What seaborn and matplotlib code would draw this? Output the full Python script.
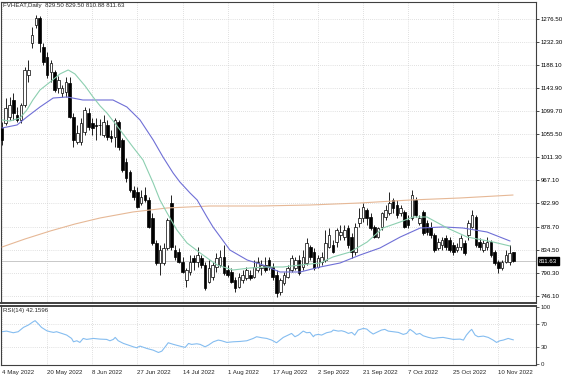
import numpy as np
import pandas as pd
import matplotlib
matplotlib.use("Agg")
import matplotlib.pyplot as plt
import seaborn as sns

# ---------------- data ----------------
title_text = "FVHEAT,Daily  829.50 829.50 810.88 811.63"
rsi_label = "RSI(14) 42.1596"

opens = [1068.0, 1077.6, 1089.1, 1121.8, 1093.0, 1083.4, 1112.2, 1169.8, 1231.4, 1265.9,
         1279.4, 1223.7, 1204.4, 1175.6, 1175.6, 1144.9, 1135.3, 1137.2, 1154.5, 1089.1,
         1041.1, 1041.1, 1060.3, 1096.8, 1077.6, 1073.8, 1073.8, 1054.6, 1073.8, 1052.6,
         1050.7, 1079.5, 1045.0, 1002.7, 983.4, 948.8, 945.0, 923.9, 939.2, 929.6,
         895.1, 847.0, 808.6, 808.6, 837.4, 923.9, 833.5, 829.7, 810.5, 775.9,
         791.3, 818.2, 810.5, 818.2, 804.7, 772.1, 781.7, 800.9, 804.7, 820.1,
         795.1, 791.3, 775.9, 762.4, 775.9, 779.8, 785.5, 781.7, 795.1, 799.0,
         804.7, 814.3, 800.9, 785.5, 752.8, 770.1, 781.7, 795.1, 799.0, 814.3,
         800.9, 808.6, 839.3, 829.7, 800.9, 810.5, 814.3, 839.3, 843.2, 848.9,
         862.4, 858.5, 875.8, 858.5, 829.7, 885.4, 895.1, 910.4, 897.0, 877.8,
         858.5, 877.8, 897.0, 904.6, 929.6, 920.0, 904.6, 906.6, 891.2, 895.1,
         929.6, 885.4, 906.6, 885.4, 877.8, 862.4, 837.4, 843.2, 856.6, 852.8,
         843.2, 833.5, 839.3, 847.0, 862.4, 877.8, 897.0, 848.9, 833.5, 839.3,
         848.9, 829.7, 810.5, 799.0, 810.5, 810.5, 829.5]

closes = [1045.0, 1106.4, 1112.2, 1096.8, 1083.4, 1112.2, 1179.5, 1179.5, 1246.7, 1279.4,
          1231.4, 1194.8, 1169.8, 1192.9, 1141.0, 1160.2, 1144.9, 1156.4, 1089.1, 1045.0,
          1058.4, 1077.6, 1102.6, 1069.9, 1068.0, 1071.8, 1072.8, 1079.5, 1050.7, 1048.8,
          1083.4, 1031.5, 987.3, 971.9, 948.8, 935.4, 916.2, 935.4, 929.6, 877.8,
          847.0, 808.6, 833.5, 837.4, 891.2, 839.3, 820.1, 810.5, 791.3, 795.1,
          810.5, 810.5, 823.9, 804.7, 760.5, 799.0, 804.7, 818.2, 820.1, 789.4,
          785.5, 772.1, 760.5, 781.7, 785.5, 795.1, 779.8, 800.9, 810.5, 804.7,
          795.1, 800.9, 781.7, 750.9, 775.9, 785.5, 799.0, 818.2, 814.3, 789.4,
          820.1, 847.0, 820.1, 799.0, 818.2, 820.1, 847.0, 862.4, 829.7, 872.0,
          868.1, 872.0, 843.2, 829.7, 877.8, 895.1, 916.2, 895.1, 875.8, 858.5,
          875.8, 904.6, 910.4, 923.9, 914.3, 900.8, 914.3, 877.8, 881.6, 939.2,
          900.8, 895.1, 866.2, 868.1, 862.4, 833.5, 848.9, 852.8, 839.3, 833.5,
          829.7, 839.3, 856.6, 827.8, 885.4, 900.8, 843.2, 839.3, 847.0, 848.9,
          823.9, 808.6, 799.0, 810.5, 823.9, 827.8, 811.63]

highs = [1079.5, 1125.6, 1127.6, 1135.3, 1108.4, 1116.0, 1185.2, 1198.7, 1262.1, 1285.1,
         1283.2, 1231.4, 1214.0, 1198.7, 1179.5, 1167.9, 1150.6, 1166.0, 1166.0, 1096.8,
         1073.8, 1087.2, 1108.4, 1106.4, 1087.2, 1087.2, 1085.3, 1093.0, 1083.4, 1064.2,
         1087.2, 1083.4, 1048.8, 1010.3, 987.3, 956.5, 954.6, 948.8, 954.6, 935.4,
         904.6, 852.8, 843.2, 847.0, 895.1, 939.2, 843.2, 837.4, 820.1, 799.0,
         823.9, 823.9, 839.3, 823.9, 810.5, 814.3, 810.5, 827.8, 833.5, 843.2,
         804.7, 799.0, 781.7, 789.4, 795.1, 800.9, 795.1, 814.3, 820.1, 814.3,
         820.1, 820.1, 808.6, 795.1, 779.8, 791.3, 804.7, 823.9, 820.1, 823.9,
         833.5, 856.6, 843.2, 837.4, 823.9, 829.7, 872.0, 875.8, 852.8, 875.8,
         881.6, 881.6, 881.6, 866.2, 885.4, 914.3, 923.9, 914.3, 904.6, 881.6,
         877.8, 906.6, 920.0, 945.0, 933.5, 929.6, 920.0, 910.4, 900.8, 948.8,
         935.4, 900.8, 910.4, 891.2, 887.4, 866.2, 856.6, 858.5, 862.4, 858.5,
         848.9, 847.0, 862.4, 852.8, 891.2, 910.4, 900.8, 856.6, 852.8, 858.5,
         852.8, 833.5, 814.3, 814.3, 833.5, 843.2, 829.5]

lows = [1035.3, 1073.8, 1083.4, 1083.4, 1079.5, 1077.6, 1108.4, 1156.4, 1221.7, 1260.2,
        1214.0, 1189.1, 1164.1, 1156.4, 1137.2, 1135.3, 1127.6, 1127.6, 1087.2, 1031.5,
        1037.2, 1035.3, 1054.6, 1064.2, 1054.6, 1045.0, 1054.6, 1050.7, 1045.0, 1041.1,
        1031.5, 1025.7, 983.4, 964.2, 945.0, 929.6, 914.3, 920.0, 925.8, 875.8,
        843.2, 804.7, 785.5, 804.7, 833.5, 833.5, 814.3, 808.6, 789.4, 762.4,
        785.5, 795.1, 800.9, 799.0, 756.7, 770.1, 775.9, 791.3, 800.9, 785.5,
        781.7, 770.1, 752.8, 760.5, 770.1, 775.9, 775.9, 779.8, 791.3, 785.5,
        791.3, 795.1, 775.9, 743.2, 747.1, 766.3, 779.8, 791.3, 795.1, 785.5,
        795.1, 804.7, 814.3, 795.1, 799.0, 804.7, 810.5, 837.4, 827.8, 839.3,
        852.8, 852.8, 837.4, 818.2, 823.9, 877.8, 887.4, 881.6, 872.0, 856.6,
        856.6, 872.0, 891.2, 900.8, 904.6, 895.1, 898.9, 875.8, 875.8, 891.2,
        897.0, 881.6, 862.4, 862.4, 856.6, 829.7, 833.5, 833.5, 833.5, 829.7,
        823.9, 829.7, 833.5, 823.9, 852.8, 875.8, 839.3, 833.5, 829.7, 833.5,
        820.1, 804.7, 789.4, 795.1, 808.6, 804.7, 810.88]

# moving averages (bar position, price)
ma_fast_pos = [0, 2.1, 4.8, 6.6, 8.2, 10.1, 12.8, 15.4, 17.6, 19.4, 22.1, 24.2, 26.1, 27.9,
               31.4, 34.8, 37.5, 40.2, 42.0, 43.9, 46.5, 49.2, 52.7, 55.3, 57.2, 61.4, 66.0,
               70.5, 74.7, 79.3, 84.6, 88.0, 92.6, 97.1, 101.3, 105.9, 109.3, 113.0, 118.4,
               123.7, 130.6, 135.1]
ma_fast_val = [1083.4, 1081.4, 1087.2, 1102.6, 1121.8, 1141.0, 1156.4, 1171.8, 1179.5, 1171.8,
               1148.7, 1127.6, 1110.3, 1096.8, 1064.2, 1031.5, 1006.5, 962.3, 929.6, 904.6,
               872.0, 847.0, 827.8, 814.3, 804.7, 795.1, 799.0, 800.9, 800.9, 804.7, 808.6,
               820.1, 829.7, 848.9, 875.8, 887.4, 897.0, 897.0, 875.8, 858.5, 848.9, 841.2]

ma_mid_pos = [0, 4.0, 6.6, 10.1, 13.6, 17.3, 21.5, 29.5, 33.2, 36.7, 40.2, 42.8, 45.5, 47.3,
              50.0, 51.9, 54.5, 56.1, 60.6, 65.2, 69.4, 73.9, 79.3, 84.6, 89.9, 95.2, 100.5,
              105.9, 111.2, 117.3, 122.6, 129.0, 135.1]
ma_mid_val = [1068.0, 1073.8, 1089.1, 1108.4, 1125.6, 1127.6, 1121.8, 1121.8, 1108.4, 1083.4,
              1045.0, 1012.3, 981.5, 964.2, 943.1, 929.6, 897.0, 877.8, 833.5, 814.3, 804.7,
              791.3, 791.3, 800.9, 808.6, 823.9, 837.4, 858.5, 875.8, 877.8, 875.8, 868.1,
              850.8]

ma_slow_pos = [0, 6.1, 12.8, 19.4, 26.1, 34.8, 43.9, 55.3, 68.6, 81.9, 95.2, 108.5, 121.8, 135.9]
ma_slow_val = [839.3, 854.7, 870.0, 883.5, 895.1, 906.6, 914.3, 918.1, 918.1, 920.0, 923.9,
               929.6, 933.5, 939.2]

rsi_pos = [0, 1.2, 3.0, 4.3, 5.7, 7.0, 8.3, 8.8, 9.7, 10.5, 11.9, 12.8, 13.7, 14.5, 15.9, 17.2,
           18.5, 19.0, 19.9, 20.7, 21.6, 22.5, 24.3, 26.1, 27.8, 28.7, 29.6, 30.1, 30.9, 32.3,
           33.6, 34.9, 35.8, 36.7, 38.5, 40.2, 41.6, 42.5, 43.4, 44.2, 45.6, 47.3, 48.7, 49.6,
           50.4, 51.8, 52.7, 54.0, 54.9, 56.2, 57.5, 58.4, 59.8, 61.5, 63.3, 65.1, 66.8, 67.7,
           69.1, 70.4, 71.7, 73.0, 74.8, 76.1, 77.0, 77.9, 78.8, 80.1, 81.0, 81.9, 82.8, 83.2,
           84.1, 85.0, 86.3, 87.6, 88.1, 89.4, 90.3, 91.2, 92.1, 93.0, 93.8, 94.7, 96.1, 97.0,
           97.8, 98.7, 99.6, 100.9, 101.8, 102.7, 104.0, 105.4, 106.7, 107.6, 108.5, 109.4,
           110.2, 111.1, 112.0, 113.4, 114.7, 116.0, 117.3, 118.7, 120.0, 121.8, 122.7, 123.5,
           124.4, 124.9, 125.8, 126.6, 128.0, 129.3, 130.6, 131.5, 132.4, 133.3, 134.6, 135.5,
           136.0]
rsi_val = [56.5, 57.6, 54.7, 56.5, 64.1, 68.2, 74.1, 75.9, 70.0, 64.1, 58.2, 56.5, 55.3, 56.5,
           53.5, 50.6, 44.7, 38.8, 40.6, 37.7, 44.7, 43.0, 44.7, 43.5, 43.0, 40.6, 43.0, 46.5,
           40.6, 35.9, 33.0, 30.0, 28.3, 31.2, 27.1, 24.1, 20.0, 22.4, 30.0, 37.1, 34.2, 31.2,
           28.9, 35.9, 34.2, 35.3, 34.2, 30.0, 33.0, 38.8, 41.8, 40.6, 37.7, 38.8, 39.4, 40.6,
           44.7, 47.7, 45.9, 44.7, 41.8, 37.1, 46.5, 50.6, 53.5, 47.7, 50.6, 57.6, 54.7, 55.3,
           47.7, 50.6, 51.8, 50.6, 54.7, 56.5, 59.4, 57.6, 58.2, 56.5, 53.5, 55.3, 50.6, 59.4,
           62.3, 61.1, 56.5, 52.4, 55.3, 59.4, 60.6, 57.6, 56.5, 55.3, 51.8, 53.5, 60.6, 56.5,
           51.8, 53.5, 49.4, 46.5, 44.7, 45.9, 46.5, 44.7, 43.0, 43.5, 41.8, 50.6, 57.6, 60.6,
           50.6, 47.7, 48.8, 46.5, 41.8, 37.7, 40.6, 41.8, 44.7, 43.0, 42.16]

date_labels = ["4 May 2022", "20 May 2022", "8 Jun 2022", "27 Jun 2022", "14 Jul 2022",
               "1 Aug 2022", "17 Aug 2022", "2 Sep 2022", "21 Sep 2022", "7 Oct 2022",
               "25 Oct 2022", "10 Nov 2022"]
date_bars = [0, 12, 24, 36, 48, 60, 72, 84, 96, 108, 120, 132]
price_ticks = [746.10, 790.30, 834.50, 878.70, 922.90, 967.10, 1011.30, 1055.50,
               1099.70, 1143.90, 1188.10, 1232.30, 1276.50]
rsi_ticks = [0, 30, 70, 100]

# ---------------- styling ----------------
sns.set_style("white")
plt.rcParams["font.family"] = ["Liberation Sans", "DejaVu Sans"]
FS = 4.4
GRID = "#c4c4c4"
FRAME = "#404040"

fig = plt.figure(figsize=(5.64, 3.76), dpi=100)
W, H = 564.0, 376.0
ax = fig.add_axes([1 / W, (H - 303) / H, 535 / W, 301 / H])
ax2 = fig.add_axes([1 / W, 11 / H, 535 / W, 59 / H], sharex=ax)

o = np.array(opens); c = np.array(closes); h = np.array(highs); l = np.array(lows)
idx = np.arange(len(o))
up = c >= o

# last price line
ax.axhline(c[-1], color="#c8c8c8", lw=0.7, zorder=1)

# candles
ax.vlines(idx, l, h, colors="black", lw=0.6, zorder=2)
ax.bar(idx[up], (c - o)[up], bottom=o[up], width=0.7, color="white",
       edgecolor="black", linewidth=0.5, zorder=3)
ax.bar(idx[~up], (o - c)[~up], bottom=c[~up], width=0.7, color="black",
       edgecolor="black", linewidth=0.5, zorder=3)

# moving averages
df_fast = pd.DataFrame({"bar": ma_fast_pos, "price": ma_fast_val})
df_mid = pd.DataFrame({"bar": ma_mid_pos, "price": ma_mid_val})
df_slow = pd.DataFrame({"bar": ma_slow_pos, "price": ma_slow_val})
sns.lineplot(data=df_slow, x="bar", y="price", ax=ax, color="#e6b896", lw=0.8, zorder=4)
sns.lineplot(data=df_mid, x="bar", y="price", ax=ax, color="#6f6fd6", lw=0.8, zorder=4)
sns.lineplot(data=df_fast, x="bar", y="price", ax=ax, color="#8ccfb0", lw=0.8, zorder=4)

ax.set_xlim(-0.27, 142.0)
ax.set_ylim(731.7, 1310.1)
ax.set_xlabel(""); ax.set_ylabel("")
ax.yaxis.tick_right()
ax.set_yticks(price_ticks)
ax.set_yticklabels([f"{v:.2f}" for v in price_ticks])
ax.set_xticks(date_bars)
ax.tick_params(axis="y", labelsize=FS, length=2, width=0.5, pad=1.5, colors="black")
ax.tick_params(axis="x", labelbottom=False, length=0)
ax.grid(True, color=GRID, ls=(0, (1, 2)), lw=0.5)
ax.set_axisbelow(True)
for s in ax.spines.values():
    s.set_color(FRAME); s.set_linewidth(0.8)
ax.spines["bottom"].set_linewidth(1.4)

ax.annotate(title_text, xy=(0, 1), xycoords="axes fraction", xytext=(1.5, -1),
            textcoords="offset points", ha="left", va="top", fontsize=FS)
ax.annotate(f"{c[-1]:.2f}", xy=(1, c[-1]), xycoords=("axes fraction", "data"),
            xytext=(2.2, 0), textcoords="offset points", ha="left", va="center",
            fontsize=FS, color="white", annotation_clip=False,
            bbox=dict(boxstyle="square,pad=0.25", fc="black", ec="black"))

# RSI panel
df_rsi = pd.DataFrame({"bar": rsi_pos, "rsi": rsi_val})
sns.lineplot(data=df_rsi, x="bar", y="rsi", ax=ax2, color="#85bdf0", lw=0.8)
ax2.set_ylim(-2, 101.7)
ax2.set_xlabel(""); ax2.set_ylabel("")
ax2.yaxis.tick_right()
ax2.set_yticks(rsi_ticks)
ax2.set_yticklabels([str(v) for v in rsi_ticks])
ax2.tick_params(axis="y", labelsize=FS, length=2, width=0.5, pad=1.5)
ax2.set_xticks(date_bars)
ax2.set_xticklabels(date_labels, ha="left")
ax2.tick_params(axis="x", labelsize=FS, length=2, width=0.5, pad=1.5)
ax2.grid(True, axis="x", color=GRID, ls=(0, (1, 2)), lw=0.5)
for lev in (30, 70):
    ax2.axhline(lev, color=GRID, ls=(0, (1, 2)), lw=0.5, zorder=0)
ax2.set_axisbelow(True)
for s in ax2.spines.values():
    s.set_color(FRAME); s.set_linewidth(0.8)
ax2.spines["top"].set_linewidth(1.4)
ax2.annotate(rsi_label, xy=(0, 1), xycoords="axes fraction", xytext=(1.5, -1.5),
             textcoords="offset points", ha="left", va="top", fontsize=FS)

fig.savefig("out.png", dpi=100)
